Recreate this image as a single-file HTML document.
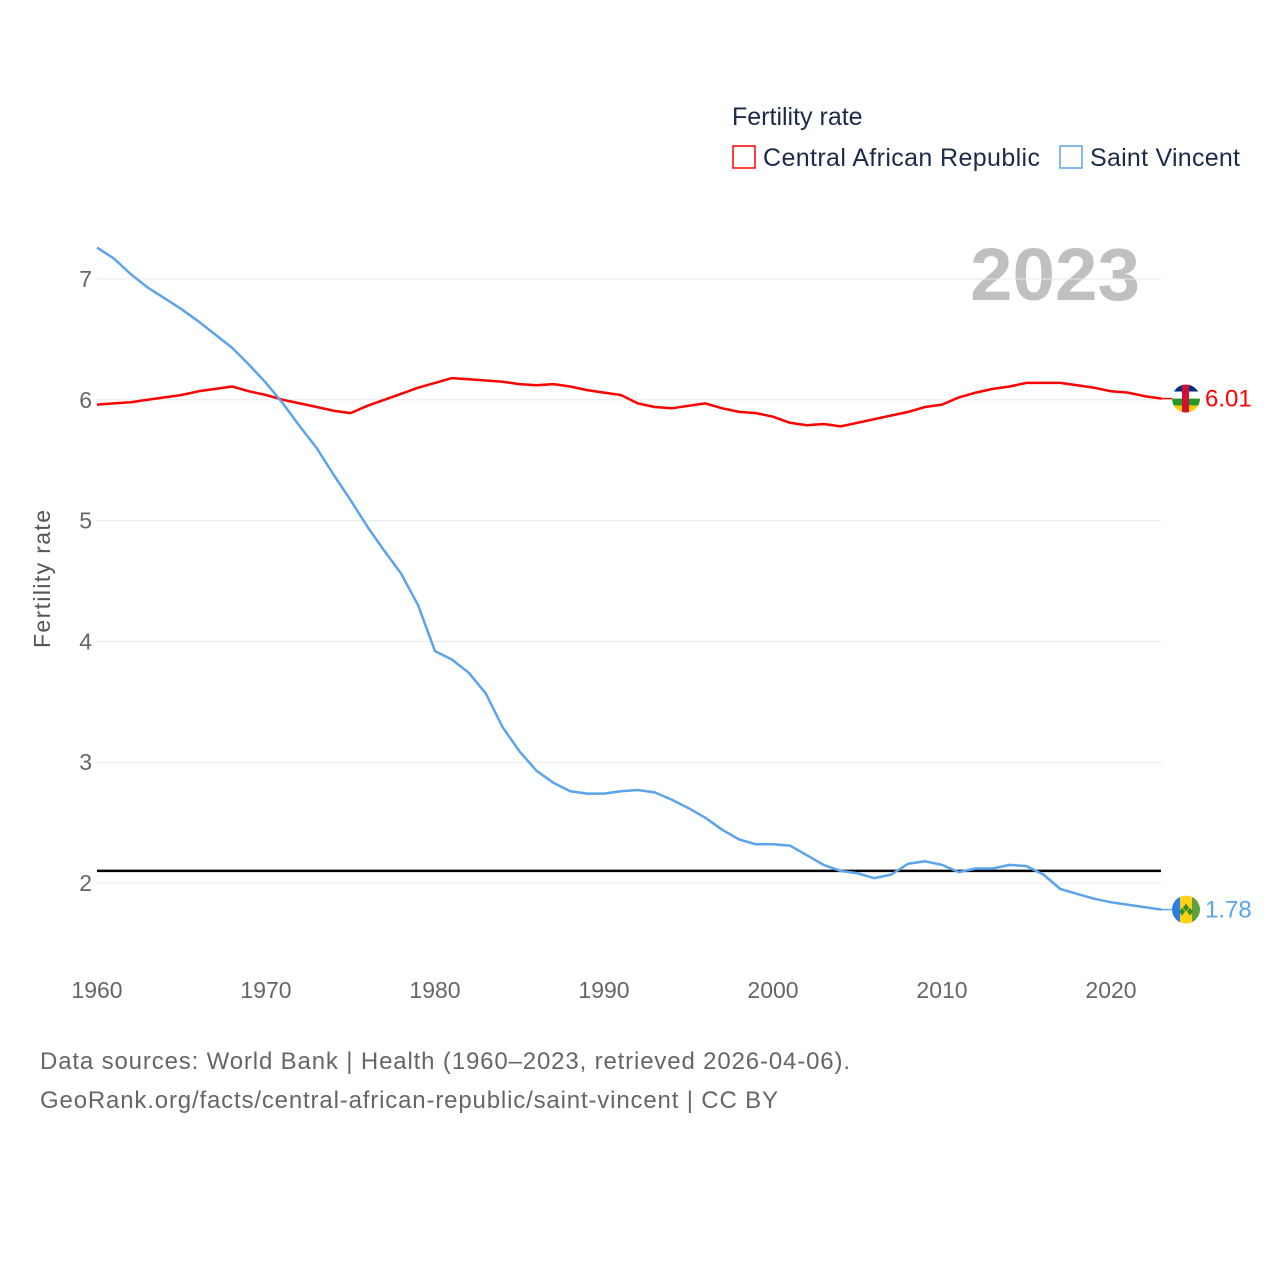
<!DOCTYPE html>
<html><head><meta charset="utf-8"><style>
body{margin:0;background:#fff;}
svg text{font-family:"Liberation Sans",sans-serif;}
</style></head><body>
<svg id="chart" width="1280" height="1280" xmlns="http://www.w3.org/2000/svg">
<text x="732" y="125" font-size="25" fill="#1a2b4a">Fertility rate</text>
<rect x="733" y="146" width="22" height="22" fill="none" stroke="#ff0000" stroke-width="1.5"/>
<text x="763" y="166" font-size="25" fill="#1a2b4a" textLength="277">Central African Republic</text>
<rect x="1060" y="146" width="22" height="22" fill="none" stroke="#5ba4ec" stroke-width="1.5"/>
<text x="1090" y="166" font-size="25" fill="#1a2b4a" textLength="150">Saint Vincent</text>
<text x="970" y="300" font-size="74" font-weight="bold" fill="#c0c0c0" textLength="170" lengthAdjust="spacingAndGlyphs">2023</text>
<text transform="translate(50,579) rotate(-90)" font-size="23" fill="#555" text-anchor="middle" textLength="138">Fertility rate</text>
<g id="grid"></g><g id="lines"></g>
<text x="40" y="1069" font-size="24" fill="#666" textLength="810">Data sources: World Bank | Health (1960–2023, retrieved 2026-04-06).</text>
<text x="40" y="1108" font-size="24" fill="#666" textLength="738">GeoRank.org/facts/central-african-republic/saint-vincent | CC BY</text>
</svg>
<script>
const years=[];for(let y=1960;y<=2023;y++)years.push(y);
const carValues=[5.96,5.97,5.98,6.00,6.02,6.04,6.07,6.09,6.11,6.07,6.04,6.00,5.97,5.94,5.91,5.89,5.95,6.00,6.05,6.10,6.14,6.18,6.17,6.16,6.15,6.13,6.12,6.13,6.11,6.08,6.06,6.04,5.97,5.94,5.93,5.95,5.97,5.93,5.90,5.89,5.86,5.81,5.79,5.80,5.78,5.81,5.84,5.87,5.90,5.94,5.96,6.02,6.06,6.09,6.11,6.14,6.14,6.14,6.12,6.10,6.07,6.06,6.03,6.01];
const svgValues=[7.26,7.17,7.04,6.93,6.84,6.75,6.65,6.54,6.43,6.29,6.14,5.97,5.78,5.60,5.38,5.17,4.95,4.75,4.56,4.30,3.92,3.85,3.74,3.57,3.29,3.09,2.93,2.83,2.76,2.74,2.74,2.76,2.77,2.75,2.69,2.62,2.54,2.44,2.36,2.32,2.32,2.31,2.23,2.15,2.10,2.08,2.04,2.07,2.16,2.18,2.15,2.09,2.12,2.12,2.15,2.14,2.07,1.95,1.91,1.87,1.84,1.82,1.80,1.78];
const yTicks=[2,3,4,5,6,7];
const xTicks=[1960,1970,1980,1990,2000,2010,2020];
const replacement=[2.1];
const NS="http://www.w3.org/2000/svg";
const X=y=>97+(y-1960)*(1014/60);
const Y=v=>883-(v-2)*120.8;
function mk(t,a,p){const e=document.createElementNS(NS,t);for(const k in a)e.setAttribute(k,a[k]);(p||document.getElementById('chart')).appendChild(e);return e;}
const grid=document.getElementById('grid'),lines=document.getElementById('lines');
yTicks.forEach(v=>{
 const l=mk('line',{x1:97,x2:1161,y1:Y(v),y2:Y(v),stroke:'#e8e8e8','stroke-width':1},grid);
 
 
 const t=mk('text',{x:92,y:Y(v)+8,'font-size':23,fill:'#666','text-anchor':'end'},grid);t.textContent=v;
 
 
});
xTicks.forEach(v=>{
 const t=mk('text',{x:X(v),y:998,'font-size':23,fill:'#666','text-anchor':'middle'},grid);t.textContent=v;
 
 
});
replacement.forEach(v=>{
 const l=mk('line',{x1:97,x2:1161,y1:Y(v),y2:Y(v),stroke:'#000','stroke-width':2.5},lines);
 
 
});
function series(vals,color,name){
 const p=mk('path',{d:vals.map((v,i)=>(i?'L':'M')+X(years[i]).toFixed(1)+' '+Y(v).toFixed(1)).join(''),fill:'none',stroke:color,'stroke-width':2.5,'stroke-linejoin':'round'},lines);
 
 
 const last=vals[vals.length-1],ly=Y(last),lx=X(years[years.length-1]);
 const s=mk('line',{x1:lx,x2:lx+12,y1:ly,y2:ly,stroke:color,'stroke-width':1.5},lines);
 
 
 return {ly,last};
}
const a=series(carValues,'#ff0000','car');
const b=series(svgValues,'#5ba4ec','saint-vincent');
const f1=mk('g',{},lines);


const cp1=mk('clipPath',{id:'c1'},f1);mk('circle',{cx:1186,cy:a.ly,r:14},cp1);
const g1=mk('g',{'clip-path':'url(#c1)'},f1);
[['#003082',0],['#fff',7],['#289728',14],['#ffce00',21]].forEach(([c,o])=>mk('rect',{x:1172,y:a.ly-14+o,width:28,height:7,fill:c},g1));
mk('rect',{x:1182,y:a.ly-14,width:7,height:28,fill:'#d21034'},g1);
const t1=mk('text',{x:1205,y:a.ly+8,'font-size':24,fill:'#ff0000'},lines);t1.textContent=a.last.toFixed(2);


const f2=mk('g',{},lines);


const cp=mk('clipPath',{id:'c2'},f2);mk('circle',{cx:1186,cy:b.ly,r:14},cp);
const g2=mk('g',{'clip-path':'url(#c2)'},f2);
mk('rect',{x:1172,y:b.ly-14,width:8,height:28,fill:'#2c7de0'},g2);
mk('rect',{x:1180,y:b.ly-14,width:12,height:28,fill:'#fcd116'},g2);
mk('rect',{x:1192,y:b.ly-14,width:8,height:28,fill:'#5fa23a'},g2);
mk('path',{d:`M1186 ${b.ly-6}l3 4-3 4-3-4zM1182 ${b.ly-2}l3 4-3 4-3-4zM1190 ${b.ly-2}l3 4-3 4-3-4z`,fill:'#3a8a2a'},g2);
const t2=mk('text',{x:1205,y:b.ly+8,'font-size':24,fill:'#5ba4ec'},lines);t2.textContent=b.last.toFixed(2);


</script>
</body></html>
